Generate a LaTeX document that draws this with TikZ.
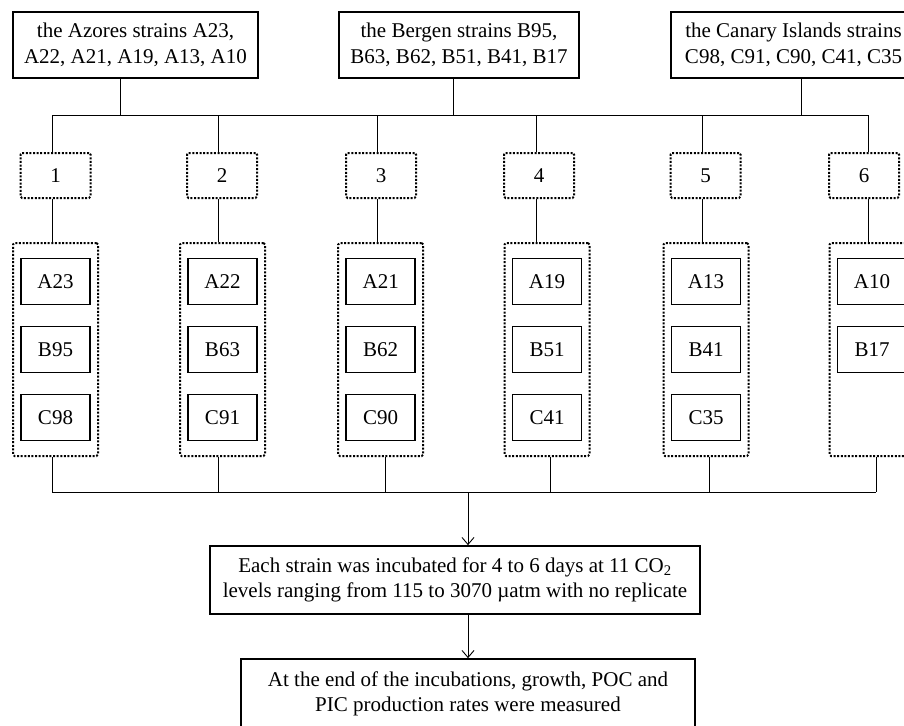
\documentclass[tikz,border=0pt]{standalone}
\usepackage{fontspec}
\setmainfont{Liberation Serif}
\usetikzlibrary{arrows.meta}
\begin{document}
\begin{tikzpicture}[x=1pt,y=-1pt,
 txt/.style={font=\fontsize{21}{25.5}\selectfont, align=center},
 solidbox/.style={draw, line width=1.7pt, inner sep=0pt, txt},
 dotbox/.style={draw, line width=2pt, dash pattern=on 2pt off 1.6pt, rounded corners=1.5pt, inner sep=0pt, txt},
 conn/.style={line width=0.9pt},
 arr/.style={conn, -{Straight Barb[length=7pt,width=12pt]}}]
\useasboundingbox (0,0) rectangle (904,725);
\clip (0,0) rectangle (904,725);
% top source boxes
\node[solidbox, minimum width=245pt, minimum height=66pt] (az) at (135.5,45) {the Azores strains A23,\\A22, A21, A19, A13, A10};
\node[solidbox, minimum width=240pt, minimum height=66pt] (be) at (459,45) {the Bergen strains B95,\\B63, B62, B51, B41, B17};
\node[solidbox, minimum width=245pt, minimum height=66pt] (ca) at (793.5,45) {the Canary Islands strains\\C98, C91, C90, C41, C35};
\coordinate (ja) at (120,115);
\coordinate (jb) at (453,115);
\coordinate (jc) at (801,115);
\draw[conn] (az.south -| ja) -- (ja);
\draw[conn] (be.south -| jb) -- (jb);
\draw[conn] (ca.south -| jc) -- (jc);
% groups
\foreach \i/\lx/\nx/\bx/\ox/\sa/\sb in {1/52/55.5/55.5/52/A23/B95, 2/218/222/222.5/218/A22/B63, 3/377/381/380.7/385/A21/B62, 4/536/539/547/550/A19/B51, 5/702/705.5/706/709/A13/B41, 6/868/864/872/876/A10/B17} {
 \node[dotbox, minimum width=70pt, minimum height=45pt] (n\i) at (\nx,175.5) {\i};
 \node[dotbox, minimum width=85pt, minimum height=213pt] (g\i) at (\bx,349.5) {};
 \node[solidbox, minimum width=69pt, minimum height=46pt] (sa\i) at (\bx,281.5) {\sa};
 \node[solidbox, minimum width=69pt, minimum height=46pt] (sb\i) at (\bx,349.5) {\sb};
 \coordinate (t\i) at (\lx,115);
 \coordinate (b\i) at (\ox,492);
 \draw[conn] (t\i) -- (t\i |- n\i.north);
 \draw[conn] (t\i |- n\i.south) -- (t\i |- g\i.north);
 \draw[conn] (b\i |- g\i.south) -- (b\i);
}
\foreach \i/\sc in {1/C98, 2/C91, 3/C90, 4/C41, 5/C35} {
 \node[solidbox, minimum width=69pt, minimum height=46pt] (sc\i) at (sa\i |- 0,417.5) {\sc};
}
\draw[conn] (t1) -- (t6);
\draw[conn] (b1) -- (b6);
% process boxes
\node[solidbox, minimum width=490pt, minimum height=68pt] (m) at (455,580) {Each strain was incubated for 4 to 6 days at 11 CO\textsubscript{2}\\levels ranging from 115 to 3070 µatm with no replicate};
\node[solidbox, minimum width=454pt, minimum height=70pt] (f) at (468,694) {At the end of the incubations, growth, POC and\\PIC production rates were measured};
\coordinate (jm) at (468,492);
\draw[arr] (jm) -- (jm |- m.north);
\draw[arr] (jm |- m.south) -- (jm |- f.north);
\end{tikzpicture}
\end{document}
